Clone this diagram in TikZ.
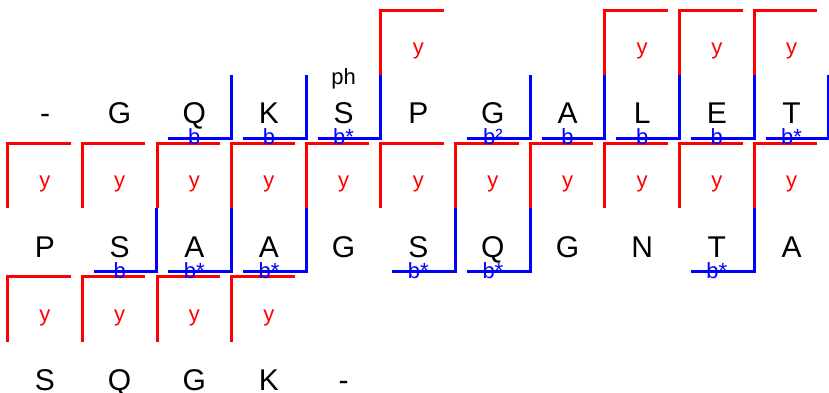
\documentclass[tikz,border=0pt]{standalone}
\usepackage{fontspec}
\setmainfont{Liberation Sans}
\usepackage{tikz}
\usetikzlibrary{calc}
\definecolor{colory}{HTML}{FF0000}
\definecolor{colorb}{HTML}{0000FF}
\tikzset{res/.style={draw=none, inner sep=0pt, anchor=base, font=\fontsize{15}{18}\selectfont}}
\tikzset{ionlbl/.style={draw=none, inner sep=0pt, font=\fontsize{11}{13}\selectfont}}
\tikzset{
  edgey/.style={colory, line width=1.5pt},
  edgeb/.style={colorb, line width=1.5pt},
  lbly/.style={ionlbl, colory},
  lblb/.style={ionlbl, colorb, anchor=base}
}

\begin{document}
\begin{tikzpicture}[x=0.5pt, y=-0.5pt]
\useasboundingbox (0,0) rectangle (829,392);
% residues, three rows
\foreach \aa [count=\i from 0] in {-,G,Q,K,S,P,G,A,L,E,T}
  \node[res] (r0c\i) at (45+74.65*\i,123.75) {\aa};
\foreach \aa [count=\i from 0] in {P,S,A,A,G,S,Q,G,N,T,A}
  \node[res] (r1c\i) at (45+74.65*\i,257.05) {\aa};
\foreach \aa [count=\i from 0] in {S,Q,G,K,-}
  \node[res] (r2c\i) at (45+74.65*\i,390.35) {\aa};
\node[ionlbl, anchor=base] (ph) at ($(r0c4.base)+(0,-39.4)$) {ph};
% y ions
\foreach \n in {r0c5,r0c8,r0c9,r0c10,r1c0,r1c1,r1c2,r1c3,r1c4,r1c5,r1c6,r1c7,r1c8,r1c9,r1c10,r2c0,r2c1,r2c2,r2c3}{
  \draw[edgey] ($(\n.base)+(-37.3,-48.75)$) -- ++(0,-65) -- ++(63,0);
  \node[lbly] (\n-y) at ($(\n.base)+(0,-72.75)$) {y};
}
% b ions
\foreach \n/\lbl in {r0c2/b,r0c3/b,r0c4/b*,r0c6/b²,r0c7/b,r0c8/b,r0c9/b,r0c10/b*,r1c1/b,r1c2/b*,r1c3/b*,r1c5/b*,r1c6/b*,r1c9/b*}{
  \draw[edgeb] ($(\n.base)+(-26,14.25)$) -- ++(63.3,0) -- ++(0,-63);
  \node[lblb] (\n-b) at ($(\n.base)+(0,21)$) {\lbl};
}
\end{tikzpicture}
\end{document}
